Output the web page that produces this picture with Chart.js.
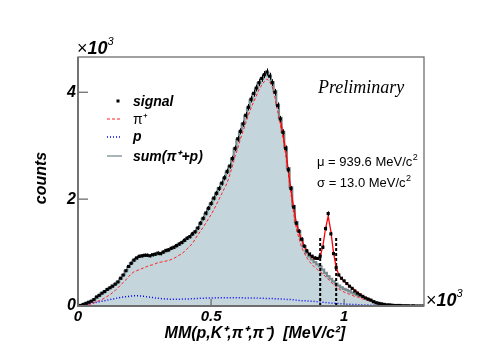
<!DOCTYPE html>
<html>
<head>
<meta charset="utf-8">
<script src="https://cdn.jsdelivr.net/npm/chart.js@4/dist/chart.umd.min.js"></script>
<style>
  html, body { margin: 0; padding: 0; background: #ffffff; }
  #c { display: block; }
</style>
</head>
<body>
<canvas id="c" width="498" height="364"></canvas>
<script>
// ---- data (x in 10^3 MeV/c^2, counts in 10^3) ----
const mass = [
 0.00,0.01,0.02,0.03,0.04,0.05,0.06,0.07,0.08,0.09,
 0.10,0.11,0.12,0.13,0.14,0.15,0.16,0.17,0.18,0.19,
 0.20,0.21,0.22,0.23,0.24,0.25,0.26,0.27,0.28,0.29,
 0.30,0.31,0.32,0.33,0.34,0.35,0.36,0.37,0.38,0.39,
 0.40,0.41,0.42,0.43,0.44,0.45,0.46,0.47,0.48,0.49,
 0.50,0.51,0.52,0.53,0.54,0.55,0.56,0.57,0.58,0.59,
 0.60,0.61,0.62,0.63,0.64,0.65,0.66,0.67,0.68,0.69,
 0.70,0.71,0.72,0.73,0.74,0.75,0.76,0.77,0.78,0.79,
 0.80,0.81,0.82,0.83,0.84,0.85,0.86,0.87,0.88,0.89,
 0.90,0.91,0.92,0.93,0.94,0.95,0.96,0.97,0.98,0.99,
 1.00,1.01,1.02,1.03,1.04,1.05,1.06,1.07,1.08,1.09,
 1.10,1.11,1.12,1.13,1.14,1.15,1.16,1.17,1.18,1.19,
 1.20,1.21,1.22,1.23,1.24,1.25,1.26,1.27,1.28,1.29,1.30];

const signal = [
 0.00,0.01,0.03,0.05,0.07,0.09,0.12,0.17,0.20,0.24,
 0.27,0.31,0.34,0.37,0.41,0.45,0.52,0.58,0.66,0.74,
 0.80,0.86,0.90,0.93,0.94,0.95,0.95,0.94,0.96,0.97,
 0.99,0.98,1.01,1.04,1.05,1.08,1.10,1.13,1.16,1.19,
 1.23,1.27,1.30,1.35,1.39,1.46,1.55,1.64,1.74,1.83,
 1.92,2.02,2.11,2.20,2.30,2.40,2.52,2.62,2.76,2.95,
 3.13,3.27,3.41,3.57,3.72,3.87,3.98,4.08,4.18,4.26,
 4.33,4.38,4.30,4.18,4.00,3.75,3.50,3.25,2.95,2.55,
 2.20,1.85,1.55,1.40,1.25,1.12,1.03,0.97,0.93,0.90,
 0.89,0.93,1.10,1.45,1.73,1.35,0.98,0.72,0.58,0.52,
 0.47,0.42,0.37,0.33,0.28,0.24,0.21,0.18,0.15,0.13,
 0.11,0.08,0.06,0.05,0.04,0.03,0.02,0.02,0.015,0.01,
 0.01,0.01,0.005,0.005,0.005,0,0.005,0,0,0,0];

const sumPiP = [
 0.00,0.01,0.03,0.05,0.07,0.09,0.12,0.16,0.20,0.24,
 0.27,0.31,0.34,0.38,0.41,0.45,0.51,0.58,0.66,0.73,
 0.80,0.85,0.89,0.92,0.93,0.94,0.94,0.94,0.95,0.96,
 0.97,0.98,1.00,1.02,1.04,1.07,1.09,1.12,1.15,1.18,
 1.22,1.26,1.29,1.34,1.39,1.46,1.54,1.63,1.72,1.82,
 1.91,2.01,2.10,2.20,2.29,2.39,2.50,2.61,2.76,2.94,
 3.11,3.26,3.41,3.56,3.71,3.85,3.97,4.07,4.17,4.25,
 4.32,4.37,4.31,4.19,4.02,3.77,3.52,3.26,2.97,2.58,
 2.22,1.87,1.57,1.40,1.25,1.12,0.99,0.93,0.87,0.82,
 0.78,0.74,0.68,0.62,0.56,0.51,0.46,0.42,0.38,0.35,
 0.32,0.30,0.28,0.25,0.23,0.21,0.19,0.17,0.15,0.13,
 0.11,0.09,0.07,0.05,0.04,0.03,0.025,0.02,0.015,0.01,
 0.01,0.01,0.005,0.005,0.005,0.005,0,0,0,0,0];

const piPlus = [
 0.00,0.005,0.01,0.02,0.03,0.04,0.06,0.08,0.10,0.12,
 0.15,0.18,0.21,0.25,0.29,0.34,0.39,0.44,0.49,0.55,
 0.60,0.64,0.66,0.68,0.70,0.72,0.74,0.76,0.77,0.79,
 0.81,0.82,0.83,0.84,0.85,0.87,0.89,0.92,0.95,0.98,
 1.02,1.07,1.12,1.17,1.25,1.33,1.40,1.47,1.55,1.63,
 1.71,1.80,1.90,2.00,2.10,2.20,2.30,2.45,2.62,2.80,
 2.95,3.12,3.27,3.42,3.57,3.70,3.82,3.93,4.05,4.13,
 4.20,4.25,4.20,4.10,3.90,3.65,3.40,3.15,2.85,2.48,
 2.10,1.75,1.45,1.27,1.10,0.99,0.90,0.83,0.77,0.72,
 0.68,0.64,0.60,0.55,0.50,0.45,0.40,0.36,0.32,0.29,
 0.26,0.24,0.22,0.20,0.18,0.17,0.15,0.13,0.12,0.10,
 0.09,0.07,0.06,0.05,0.04,0.03,0.025,0.02,0.015,0.01,
 0.01,0.01,0.005,0.005,0.005,0,0,0,0,0,0];

const proton = [
 0.00,0.01,0.02,0.03,0.04,0.05,0.06,0.07,0.08,0.09,
 0.10,0.11,0.12,0.13,0.14,0.15,0.16,0.17,0.175,0.18,
 0.185,0.19,0.19,0.19,0.185,0.18,0.17,0.165,0.16,0.15,
 0.145,0.14,0.135,0.13,0.13,0.125,0.125,0.125,0.125,0.13,
 0.13,0.13,0.135,0.135,0.14,0.14,0.145,0.145,0.15,0.15,
 0.15,0.15,0.155,0.155,0.155,0.155,0.155,0.155,0.155,0.155,
 0.155,0.155,0.155,0.15,0.15,0.15,0.15,0.15,0.145,0.145,
 0.145,0.14,0.14,0.14,0.135,0.135,0.13,0.13,0.125,0.12,
 0.12,0.115,0.11,0.105,0.10,0.10,0.095,0.09,0.09,0.085,
 0.08,0.075,0.07,0.065,0.06,0.055,0.05,0.05,0.045,0.04,
 0.04,0.035,0.035,0.03,0.03,0.025,0.025,0.02,0.02,0.018,
 0.015,0.013,0.012,0.01,0.01,0.008,0.007,0.006,0.005,0.005,
 0.004,0.003,0.003,0.002,0.002,0.001,0.001,0.001,0,0,0];

const fitMass = [
 0.76,0.77,0.78,0.79,0.80,0.81,0.82,0.83,0.84,0.85,
 0.86,0.87,0.88,0.89,0.90,0.91,0.92,0.93,0.94,0.95,
 0.96,0.97,0.98,0.99,1.00,1.01,1.02,1.03,1.04,1.05,
 1.06,1.07,1.08,1.09,1.10];
const fitCurve = [
 3.50,3.22,2.92,2.55,2.18,1.85,1.57,1.38,1.24,1.12,
 1.03,0.96,0.91,0.88,0.88,0.93,1.12,1.45,1.68,1.40,
 1.00,0.72,0.58,0.51,0.46,0.42,0.38,0.34,0.30,0.26,
 0.22,0.19,0.16,0.13,0.11];

const cutMass = [0.910, 0.970];
const cutHeight = 1.30;

const xTicks = [0, 0.5, 1];
const xTickLabels = ['0', '0.5', '1'];
const yTicks = [0, 2, 4];
const yTickLabels = ['0', '2', '4'];
const xRange = [0, 1.30];
const yRange = [0, 4.66];

const labels = { signal: 'signal', pi: 'π⁺', p: 'p', sum: 'sum(π⁺+p)' };
const fitText = [['μ = 939.6 MeV/c', '2'], ['σ = 13.0 MeV/c', '2']];

// ---- build datasets ----
const pts = (xs, ys) => xs.map((x, i) => ({ x: x, y: ys[i] }));

const SANS = '"Liberation Sans", Arial, Helvetica, sans-serif';
const SERIF = '"Liberation Serif", "Times New Roman", serif';

const datasets = [
  { label: labels.signal, data: pts(mass, signal), showLine: false,
    pointStyle: 'rect', pointRadius: 2.2, pointBackgroundColor: '#000', pointBorderColor: '#000',
    pointBorderWidth: 0, order: 0 },
  { label: 'fit', data: pts(fitMass, fitCurve), borderColor: '#ff0000', borderWidth: 1.3,
    pointRadius: 0, fill: false, order: 1 },
  { label: 'cut1', data: [{x: cutMass[0], y: 0}, {x: cutMass[0], y: cutHeight}], borderColor: '#000',
    borderWidth: 2, borderDash: [3, 2], pointRadius: 0, fill: false, order: 2 },
  { label: 'cut2', data: [{x: cutMass[1], y: 0}, {x: cutMass[1], y: cutHeight}], borderColor: '#000',
    borderWidth: 2, borderDash: [3, 2], pointRadius: 0, fill: false, order: 2 },
  { label: labels.pi, data: pts(mass, piPlus), borderColor: '#ff2020', borderWidth: 1,
    borderDash: [3, 2], pointRadius: 0, fill: false, order: 3 },
  { label: labels.p, data: pts(mass, proton), borderColor: '#0000ff', borderWidth: 1.5,
    borderDash: [1, 2], pointRadius: 0, fill: false, order: 4 },
  { label: labels.sum, data: pts(mass, sumPiP), borderColor: '#7a8c91', borderWidth: 2.2,
    backgroundColor: '#c5d5dc', stepped: 'middle', pointRadius: 0, fill: 'origin', order: 5 }
];

const errBars = {
  id: 'errBars',
  afterDatasetsDraw(chart) {
    const ctx = chart.ctx, xs = chart.scales.x, ys = chart.scales.y;
    ctx.save();
    ctx.strokeStyle = '#000'; ctx.lineWidth = 1;
    mass.forEach((m, i) => {
      const v = signal[i];
      if (v <= 0) return;
      const e = Math.sqrt(v * 1000) / 1000;
      const x = Math.round(xs.getPixelForValue(m)) + 0.5;
      ctx.beginPath();
      ctx.moveTo(x, ys.getPixelForValue(v + e));
      ctx.lineTo(x, ys.getPixelForValue(Math.max(0, v - e)));
      ctx.stroke();
    });
    ctx.restore();
  }
};

const decor = {
  id: 'decor',
  afterDatasetsDraw(chart) {
    const ctx = chart.ctx, a = chart.chartArea;
    const xs = chart.scales.x, ys = chart.scales.y;
    ctx.save();
    // frame
    ctx.strokeStyle = '#6e6e6e';
    ctx.lineWidth = 1.3;
    ctx.strokeRect(a.left, a.top, a.right - a.left, a.bottom - a.top);
    ctx.lineWidth = 1.8;
    ctx.beginPath();
    ctx.moveTo(a.left, a.top); ctx.lineTo(a.left, a.bottom); ctx.lineTo(a.right, a.bottom);
    ctx.stroke();
    // inward ticks
    ctx.lineWidth = 1.3;
    yTicks.forEach(v => {
      const y = ys.getPixelForValue(v);
      ctx.beginPath(); ctx.moveTo(a.left, y); ctx.lineTo(a.left + 10, y); ctx.stroke();
    });
    xTicks.forEach(v => {
      const x = xs.getPixelForValue(v);
      ctx.beginPath(); ctx.moveTo(x, a.bottom); ctx.lineTo(x, a.bottom - 7); ctx.stroke();
    });

    ctx.fillStyle = '#000';
    ctx.textBaseline = 'alphabetic';
    // x10^3 labels
    const times10 = (x, y) => {
      ctx.textAlign = 'left';
      ctx.font = '18px ' + SANS;
      ctx.fillText('×', x, y);
      let w = ctx.measureText('×').width;
      ctx.font = 'italic bold 18px ' + SANS;
      ctx.fillText('10', x + w, y);
      w += ctx.measureText('10').width;
      ctx.font = 'italic 11px ' + SANS;
      ctx.fillText('3', x + w, y - 9);
    };
    times10(a.left - 1, a.top - 3);
    times10(a.right + 2, a.bottom);

    // Preliminary
    ctx.font = 'italic 18px ' + SERIF;
    ctx.textAlign = 'left';
    ctx.fillText('Preliminary', 318, 93);

    // fit results
    fitText.forEach((t, i) => {
      const y = 166 + i * 21;
      ctx.font = '13px ' + SANS;
      ctx.fillText(t[0], 317, y);
      const w = ctx.measureText(t[0]).width;
      ctx.font = '9px ' + SANS;
      ctx.fillText(t[1], 317 + w + 0.5, y - 6);
    });

    // legend
    const lx0 = 107, lx1 = 122, tx = 133;
    ctx.fillStyle = '#000';
    ctx.fillRect(116.5, 99.5, 3, 3);
    ctx.font = 'italic bold 14px ' + SANS;
    ctx.fillText(labels.signal, tx, 106);
    const line = (y, ds) => {
      ctx.save();
      ctx.strokeStyle = ds.borderColor; ctx.lineWidth = Math.min(ds.borderWidth, 1.5);
      ctx.setLineDash(ds.borderDash || []);
      ctx.beginPath(); ctx.moveTo(lx0, y); ctx.lineTo(lx1, y); ctx.stroke();
      ctx.restore();
    };
    line(119, datasets[4]);
    ctx.font = '14px ' + SANS;
    ctx.fillText(labels.pi, tx, 124);
    line(137, datasets[5]);
    ctx.font = 'italic bold 14px ' + SANS;
    ctx.fillText(labels.p, tx, 141);
    ctx.save(); ctx.strokeStyle = '#7a8c91'; ctx.lineWidth = 1.3;
    ctx.beginPath(); ctx.moveTo(lx0, 156); ctx.lineTo(lx1, 156); ctx.stroke(); ctx.restore();
    ctx.font = 'italic bold 14px ' + SANS;
    ctx.fillText(labels.sum, tx, 161);

    // axis titles
    ctx.font = 'italic bold 16px ' + SANS;
    ctx.textAlign = 'center';
    ctx.fillText('MM(p,K⁺,π⁺,π⁻)  [MeV/c²]', 255, 338);
    ctx.save();
    ctx.translate(46, 178);
    ctx.rotate(-Math.PI / 2);
    ctx.fillText('counts', 0, 0);
    ctx.restore();
    ctx.restore();
  }
};

new Chart(document.getElementById('c'), {
  type: 'line',
  data: { datasets: datasets },
  options: {
    responsive: false,
    devicePixelRatio: 1,
    animation: false,
    layout: { padding: { top: 57, right: 74, bottom: 0, left: 0 } },
    plugins: { legend: { display: false }, tooltip: { enabled: false }, title: { display: false } },
    scales: {
      x: {
        type: 'linear', min: xRange[0], max: xRange[1],
        afterBuildTicks: s => { s.ticks = xTicks.map(v => ({ value: v })); },
        afterFit: s => { s.height = 58; },
        grid: { display: false, drawTicks: false }, border: { display: false },
        ticks: {
          padding: 2, color: '#000', maxRotation: 0, autoSkip: false,
          font: { family: SANS, size: 15, style: 'italic', weight: 'bold' },
          callback: v => xTickLabels[xTicks.indexOf(v)]
        }
      },
      y: {
        type: 'linear', min: yRange[0], max: yRange[1],
        afterBuildTicks: s => { s.ticks = yTicks.map(v => ({ value: v })); },
        afterFit: s => { s.width = 78; },
        grid: { display: false, drawTicks: false }, border: { display: false },
        ticks: {
          padding: 2, color: '#000', autoSkip: false,
          font: { family: SANS, size: 16, style: 'italic', weight: 'bold' },
          callback: v => yTickLabels[yTicks.indexOf(v)]
        }
      }
    }
  },
  plugins: [errBars, decor]
});
</script>
</body>
</html>
